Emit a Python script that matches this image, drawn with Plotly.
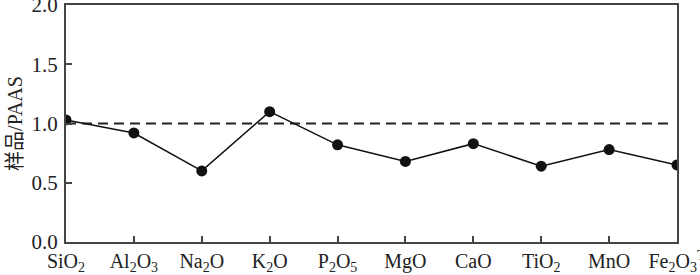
import plotly.graph_objects as go

categories = ["SiO<sub>2</sub>", "Al<sub>2</sub>O<sub>3</sub>", "Na<sub>2</sub>O", "K<sub>2</sub>O",
              "P<sub>2</sub>O<sub>5</sub>", "MgO", "CaO", "TiO<sub>2</sub>", "MnO",
              "Fe<sub>2</sub>O<sub>3</sub><sup>T</sup>"]
values = [1.03, 0.92, 0.60, 1.10, 0.82, 0.68, 0.83, 0.64, 0.78, 0.65]
reference = [1.0, 1.0]
y_ticks = [0.0, 0.5, 1.0, 1.5, 2.0]

xs = list(range(len(categories)))
font = "Liberation Serif"

fig = go.Figure()
fig.add_trace(go.Scatter(x=[xs[0], xs[-1] - 0.07], y=reference, mode="lines",
                         line=dict(color="#222", width=1.8, dash="10px,6px"),
                         showlegend=False, hoverinfo="skip"))
fig.add_trace(go.Scatter(x=xs, y=values, mode="lines+markers",
                         line=dict(color="#111", width=1.5),
                         marker=dict(color="#111", size=11),
                         showlegend=False))

fig.update_layout(
    width=700, height=275,
    margin=dict(l=66, r=23, t=5, b=33, autoexpand=False),
    paper_bgcolor="white", plot_bgcolor="white",
    font=dict(family=font, size=21, color="#222"),
    xaxis=dict(range=[0, 9], tickvals=xs, ticktext=categories, ticks="inside",
               ticklen=6, tickwidth=1.5, tickcolor="#444", showgrid=False, zeroline=False,
               showline=True, linecolor="#444", linewidth=2, mirror=True,
               automargin=False, ticklabeloverflow="allow", ticklabelstandoff=0,
               tickfont=dict(size=20, family=font)),
    yaxis=dict(range=[0, 2.0], tickvals=y_ticks, ticktext=[f"{v:.1f}" for v in y_ticks],
               ticks="inside", ticklen=6, tickwidth=1.5, tickcolor="#444",
               showgrid=False, zeroline=False, showline=True, linecolor="#444",
               linewidth=2, mirror=True, automargin=False, ticklabeloverflow="allow",
               ticklabelstandoff=2,
               tickfont=dict(size=21, family=font),
               title=dict(text="样品/PAAS", font=dict(size=20, family="Liberation Serif, Noto Sans CJK SC"), standoff=4)),
)

fig.write_html("out.html", config={"displayModeBar": False},
               post_script="document.body.style.margin='0';document.body.style.overflow='hidden';")
